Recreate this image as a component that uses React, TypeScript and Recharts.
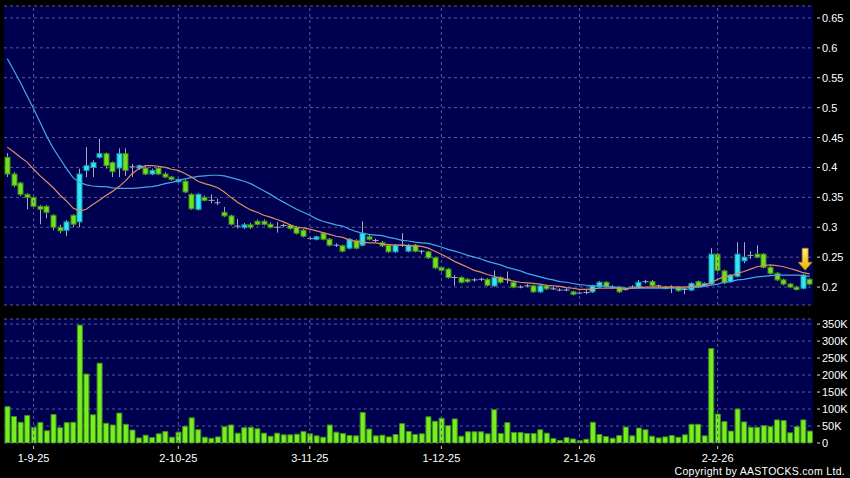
import { Bar, CartesianGrid, ComposedChart, Line, ReferenceDot, ReferenceLine, XAxis, YAxis } from 'recharts'

// daily candles, oldest first (late Aug 2025 .. Feb 2026)
const OPEN = [
  0.417, 0.389, 0.374, 0.355, 0.35, 0.335, 0.335, 0.32, 0.3, 0.295,
  0.32, 0.309, 0.395, 0.4, 0.417, 0.423, 0.408, 0.399, 0.423, 0.401,
  0.399, 0.399, 0.389, 0.399, 0.389, 0.384, 0.376, 0.377, 0.355, 0.33,
  0.35, 0.345, 0.341, 0.325, 0.319, 0.302, 0.3, 0.304, 0.31, 0.31,
  0.305, 0.3, 0.303, 0.303, 0.3, 0.295, 0.281, 0.28, 0.29, 0.28,
  0.27, 0.269, 0.265, 0.278, 0.27, 0.284, 0.278, 0.274, 0.27, 0.259,
  0.27, 0.26, 0.27, 0.26, 0.259, 0.249, 0.233, 0.23, 0.216, 0.216,
  0.213, 0.212, 0.213, 0.213, 0.202, 0.216, 0.213, 0.208, 0.2, 0.202,
  0.202, 0.192, 0.202, 0.197, 0.195, 0.195, 0.192, 0.19, 0.191, 0.192,
  0.2, 0.208, 0.2, 0.2, 0.196, 0.2, 0.2, 0.209, 0.209, 0.202,
  0.2, 0.2, 0.2, 0.196, 0.195, 0.209, 0.202, 0.205, 0.255, 0.227,
  0.209, 0.218, 0.244, 0.253, 0.255, 0.255, 0.233, 0.223, 0.212, 0.205,
  0.2, 0.198, 0.213,
]
const HIGH = [
  0.424, 0.392, 0.376, 0.357, 0.355, 0.337, 0.337, 0.322, 0.304, 0.312,
  0.322, 0.398, 0.434, 0.412, 0.448, 0.425, 0.41, 0.432, 0.432, 0.406,
  0.405, 0.402, 0.398, 0.402, 0.392, 0.386, 0.382, 0.38, 0.357, 0.357,
  0.353, 0.355, 0.348, 0.334, 0.321, 0.314, 0.307, 0.307, 0.313, 0.313,
  0.308, 0.309, 0.306, 0.305, 0.302, 0.297, 0.284, 0.286, 0.292, 0.282,
  0.273, 0.271, 0.282, 0.28, 0.31, 0.287, 0.281, 0.277, 0.272, 0.272,
  0.29, 0.272, 0.272, 0.262, 0.261, 0.251, 0.235, 0.232, 0.22, 0.218,
  0.215, 0.215, 0.216, 0.215, 0.228, 0.218, 0.226, 0.21, 0.203, 0.205,
  0.204, 0.204, 0.204, 0.2, 0.198, 0.198, 0.194, 0.192, 0.195, 0.204,
  0.21, 0.21, 0.203, 0.202, 0.199, 0.203, 0.212, 0.212, 0.212, 0.204,
  0.202, 0.203, 0.202, 0.2, 0.208, 0.211, 0.208, 0.265, 0.257, 0.229,
  0.222, 0.275, 0.275, 0.26, 0.27, 0.257, 0.235, 0.225, 0.214, 0.207,
  0.202, 0.222, 0.215,
]
const LOW = [
  0.384, 0.367, 0.352, 0.33, 0.331, 0.305, 0.315, 0.295, 0.29, 0.285,
  0.3, 0.3, 0.384, 0.384, 0.415, 0.398, 0.384, 0.384, 0.386, 0.384,
  0.396, 0.387, 0.387, 0.387, 0.382, 0.378, 0.374, 0.357, 0.329, 0.328,
  0.343, 0.34, 0.337, 0.317, 0.303, 0.298, 0.297, 0.297, 0.303, 0.303,
  0.298, 0.291, 0.3, 0.296, 0.288, 0.283, 0.279, 0.278, 0.278, 0.268,
  0.267, 0.258, 0.263, 0.263, 0.268, 0.278, 0.275, 0.267, 0.257, 0.257,
  0.267, 0.258, 0.258, 0.255, 0.247, 0.23, 0.226, 0.214, 0.202, 0.206,
  0.207, 0.209, 0.21, 0.201, 0.2, 0.206, 0.206, 0.198, 0.198, 0.2,
  0.19, 0.19, 0.195, 0.195, 0.193, 0.193, 0.186, 0.188, 0.188, 0.19,
  0.198, 0.198, 0.197, 0.19, 0.194, 0.197, 0.198, 0.206, 0.2, 0.199,
  0.196, 0.19, 0.192, 0.188, 0.193, 0.198, 0.2, 0.203, 0.226, 0.205,
  0.207, 0.216, 0.24, 0.247, 0.248, 0.231, 0.221, 0.21, 0.203, 0.198,
  0.194, 0.196, 0.203,
]
const CLOSE = [
  0.389, 0.37, 0.355, 0.35, 0.335, 0.33, 0.325, 0.3, 0.294, 0.309,
  0.305, 0.389, 0.403, 0.408, 0.423, 0.403, 0.393, 0.423, 0.395, 0.401,
  0.403, 0.389, 0.395, 0.389, 0.384, 0.38, 0.38, 0.359, 0.331, 0.355,
  0.345, 0.345, 0.341, 0.319, 0.305, 0.302, 0.304, 0.3, 0.305, 0.305,
  0.3, 0.3, 0.303, 0.298, 0.29, 0.285, 0.281, 0.284, 0.28, 0.27,
  0.27, 0.26, 0.28, 0.265, 0.29, 0.28, 0.278, 0.269, 0.259, 0.27,
  0.27, 0.27, 0.26, 0.26, 0.249, 0.232, 0.228, 0.216, 0.216, 0.208,
  0.209, 0.212, 0.213, 0.203, 0.216, 0.208, 0.213, 0.2, 0.2, 0.202,
  0.192, 0.202, 0.197, 0.197, 0.195, 0.195, 0.188, 0.19, 0.191, 0.202,
  0.208, 0.2, 0.2, 0.192, 0.196, 0.2, 0.208, 0.209, 0.202, 0.202,
  0.198, 0.2, 0.194, 0.196, 0.206, 0.2, 0.206, 0.255, 0.228, 0.207,
  0.22, 0.255, 0.25, 0.253, 0.25, 0.233, 0.223, 0.212, 0.205, 0.2,
  0.196, 0.22, 0.205,
]
// volume in thousands of shares
const VOLUME_K = [
  107, 78, 61, 81, 46, 60, 36, 84, 45, 60,
  61, 347, 203, 83, 235, 58, 53, 88, 55, 38,
  15, 23, 16, 27, 34, 17, 32, 49, 74, 39,
  17, 14, 18, 48, 53, 29, 45, 46, 42, 29,
  20, 29, 24, 24, 26, 34, 27, 21, 17, 53,
  32, 28, 22, 21, 90, 41, 21, 23, 18, 25,
  57, 34, 25, 27, 77, 64, 73, 51, 71, 20,
  33, 33, 33, 27, 98, 28, 60, 31, 31, 28,
  28, 39, 29, 13, 7, 16, 12, 7, 11, 61,
  25, 19, 14, 22, 47, 21, 44, 39, 20, 15,
  18, 22, 17, 24, 55, 55, 21, 278, 85, 63,
  35, 100, 62, 46, 46, 51, 48, 68, 66, 30,
  48, 68, 35,
]
// short moving average (orange)
const MA_SHORT = [
  0.434, 0.426, 0.417, 0.409, 0.397, 0.386, 0.376, 0.366, 0.354, 0.344,
  0.332, 0.327, 0.33, 0.338, 0.345, 0.353, 0.36, 0.368, 0.378, 0.39,
  0.398, 0.403, 0.403, 0.402, 0.4, 0.397, 0.395, 0.39, 0.384, 0.377,
  0.373, 0.37, 0.366, 0.359, 0.35, 0.342, 0.335, 0.329, 0.325, 0.32,
  0.317, 0.313, 0.309, 0.304, 0.3, 0.299, 0.297, 0.294, 0.291, 0.288,
  0.285, 0.283, 0.279, 0.276, 0.275, 0.274, 0.274, 0.272, 0.271, 0.27,
  0.27, 0.269, 0.269, 0.268, 0.265, 0.26, 0.255, 0.249, 0.243, 0.238,
  0.233, 0.228, 0.225, 0.221, 0.218, 0.215, 0.212, 0.21, 0.208, 0.207,
  0.206, 0.205, 0.203, 0.202, 0.201, 0.199, 0.198, 0.196, 0.196, 0.197,
  0.198, 0.198, 0.198, 0.198, 0.198, 0.198, 0.199, 0.2, 0.2, 0.2,
  0.2, 0.2, 0.2, 0.2, 0.201, 0.202, 0.203, 0.207, 0.213, 0.217,
  0.219, 0.223, 0.226, 0.23, 0.234, 0.236, 0.237, 0.236, 0.234, 0.231,
  0.228, 0.224, 0.222,
]
// long moving average (blue)
const MA_LONG = [
  0.582, 0.562, 0.542, 0.52, 0.498, 0.475, 0.452, 0.432, 0.415, 0.398,
  0.383, 0.375, 0.371, 0.369, 0.368, 0.368, 0.366, 0.365, 0.365, 0.365,
  0.366, 0.367, 0.368, 0.37, 0.373, 0.375, 0.378, 0.381, 0.383, 0.385,
  0.386, 0.387, 0.387, 0.386, 0.383, 0.38, 0.377, 0.373, 0.367, 0.361,
  0.355, 0.348, 0.342, 0.336, 0.33, 0.325, 0.32, 0.314, 0.31, 0.307,
  0.304, 0.302, 0.297, 0.293, 0.29, 0.288, 0.287, 0.286, 0.283, 0.281,
  0.278, 0.277, 0.275, 0.274, 0.273, 0.27, 0.267, 0.263, 0.26, 0.257,
  0.253, 0.25, 0.247, 0.243, 0.24, 0.237, 0.233, 0.23, 0.227, 0.223,
  0.22, 0.217, 0.214, 0.212, 0.209, 0.208, 0.206, 0.204, 0.203, 0.202,
  0.202, 0.201, 0.2, 0.199, 0.198, 0.198, 0.198, 0.198, 0.198, 0.198,
  0.198, 0.198, 0.198, 0.198, 0.199, 0.2, 0.201, 0.203, 0.205, 0.208,
  0.209, 0.212, 0.213, 0.215, 0.217, 0.218, 0.219, 0.22, 0.22, 0.22,
  0.22, 0.219, 0.218,
]
const DATE_LABELS = ['1-9-25', '2-10-25', '3-11-25', '1-12-25', '2-1-26', '2-2-26']
const DATE_INDEX = [4, 26, 46, 66, 87, 108]
const PRICE_TICKS = [0.2, 0.25, 0.3, 0.35, 0.4, 0.45, 0.5, 0.55, 0.6, 0.65]
const VOLUME_TICKS_K = [0, 50, 100, 150, 200, 250, 300, 350]
const ARROW_INDEX = 121
const ARROW_PRICE = 0.2465

const rows = OPEN.map((open, i) => ({
  i,
  open,
  high: HIGH[i],
  low: LOW[i],
  close: CLOSE[i],
  vol: VOLUME_K[i],
  maShort: MA_SHORT[i],
  maLong: MA_LONG[i],
}))

const FONT = '"Liberation Sans", Arial, sans-serif'
const PLOT_BG = '#000050'
const GRID = '#5a5a94'
const WICK = '#a8a8b8'

function Candle(props: any) {
  const { x, y, width, height, payload } = props
  const { open, close, high, low } = payload
  const k = height / (high - low)
  const cx = Math.round(x + width / 2) + 0.5
  const yo = y + (high - open) * k
  const yc = y + (high - close) * k
  if (open === close) {
    return (
      <g>
        <line x1={cx} x2={cx} y1={y} y2={y + height} stroke={WICK} />
        <line x1={cx - 3} x2={cx + 3} y1={yo} y2={yo} stroke={WICK} />
      </g>
    )
  }
  const up = close > open
  const top = Math.min(yo, yc)
  const h = Math.max(Math.abs(yc - yo), 1.5)
  return (
    <g>
      <line x1={cx} x2={cx} y1={y} y2={y + height} stroke={WICK} />
      <rect x={cx - 2.5} y={top} width={5} height={h} fill={up ? '#33e6f4' : '#70e020'} stroke={up ? '#1c9aac' : '#3f8f14'} strokeWidth={1} />
    </g>
  )
}

function ArrowMark(props: any) {
  const { cx, cy } = props
  const x = cx + 2
  const pts = [
    [x - 3, cy - 11], [x + 3, cy - 11], [x + 3, cy + 3], [x + 7, cy + 3],
    [x, cy + 11], [x - 7, cy + 3], [x - 3, cy + 3],
  ].map((p) => p.join(',')).join(' ')
  return (
    <g>
      <defs>
        <linearGradient id="arrowFill" x1="0" y1="0" x2="0" y2="1">
          <stop offset="0%" stopColor="#fff07a" />
          <stop offset="100%" stopColor="#e8b000" />
        </linearGradient>
      </defs>
      <polygon points={pts} fill="url(#arrowFill)" stroke="#b07c00" strokeWidth={0.8} />
    </g>
  )
}

function RightTick(props: any) {
  const { x, y, payload, fmt } = props
  return (
    <g>
      <line x1={x + 4} x2={x + 7} y1={y} y2={y} stroke="#dddddd" />
      <text x={x + 9} y={y + 4} fill="#ffffff" fontSize={11} fontFamily={FONT}>
        {fmt(payload.value)}
      </text>
    </g>
  )
}

function DateTick(props: any) {
  const { x, y, payload } = props
  const at = DATE_INDEX.indexOf(payload.value)
  if (at < 0) return <g />
  return (
    <g>
      <line x1={x} x2={x} y1={y + 3} y2={y + 6} stroke="#cccccc" />
      <text x={x} y={y + 19} fill="#ffffff" fontSize={11} fontFamily={FONT} textAnchor="middle">
        {DATE_LABELS[at]}
      </text>
    </g>
  )
}

const priceFmt = (v: number) => String(v)
const volFmt = (v: number) => (v === 0 ? '0' : `${v}K`)

export default function App() {
  return (
    <div style={{ position: 'fixed', left: 0, top: 0, width: 850, height: 478, background: '#000', overflow: 'hidden' }}>
      <div style={{ position: 'absolute', left: 0, top: 0 }}>
        <ComposedChart width={850} height={310} data={rows} margin={{ top: 6, right: 0, bottom: 5, left: 4 }}>
          <CartesianGrid fill={PLOT_BG} vertical={false} stroke={GRID} strokeDasharray="3 3" />
          <XAxis dataKey="i" type="category" hide />
          <YAxis
            orientation="right"
            width={37}
            domain={[0.17, 0.67]}
            ticks={PRICE_TICKS}
            allowDataOverflow
            axisLine={false}
            tickLine={false}
            tickSize={0}
            tickMargin={0}
            interval={0}
            tick={<RightTick fmt={priceFmt} />}
          />
          {DATE_INDEX.map((d) => (
            <ReferenceLine key={d} x={d} stroke={GRID} strokeDasharray="3 3" />
          ))}
          <Bar dataKey={(d: any) => [d.low, d.high]} barSize={6} shape={<Candle />} isAnimationActive={false} />
          <Line type="linear" dataKey="maLong" stroke="#45a6e6" strokeWidth={1.2} dot={false} isAnimationActive={false} />
          <Line type="linear" dataKey="maShort" stroke="#e08c62" strokeWidth={1.2} dot={false} isAnimationActive={false} />
          <ReferenceDot x={ARROW_INDEX} y={ARROW_PRICE} shape={<ArrowMark />} />
        </ComposedChart>
      </div>
      <div style={{ position: 'absolute', left: 0, top: 310 }}>
        <ComposedChart width={850} height={168} data={rows} margin={{ top: 9, right: 0, bottom: 0, left: 4 }}>
          <CartesianGrid fill={PLOT_BG} vertical={false} stroke={GRID} strokeDasharray="3 3" />
          <XAxis
            dataKey="i"
            type="category"
            height={35}
            interval={0}
            axisLine={false}
            tickLine={false}
            tickSize={0}
            tickMargin={0}
            tick={<DateTick />}
          />
          <YAxis
            orientation="right"
            width={37}
            domain={[0, 365]}
            ticks={VOLUME_TICKS_K}
            allowDataOverflow
            axisLine={false}
            tickLine={false}
            tickSize={0}
            tickMargin={0}
            interval={0}
            tick={<RightTick fmt={volFmt} />}
          />
          {DATE_INDEX.map((d) => (
            <ReferenceLine key={d} x={d} stroke={GRID} strokeDasharray="3 3" />
          ))}
          <Bar dataKey="vol" barSize={5} fill="#77ee22" stroke="#3f8f14" strokeWidth={1} isAnimationActive={false} />
        </ComposedChart>
      </div>
      <div
        style={{
          position: 'absolute',
          right: 5,
          top: 465,
          color: '#ffffff',
          fontFamily: FONT,
          fontSize: 10.5,
          letterSpacing: 0.3,
          lineHeight: '13px',
        }}
      >
        Copyright by AASTOCKS.com Ltd.
      </div>
    </div>
  )
}
